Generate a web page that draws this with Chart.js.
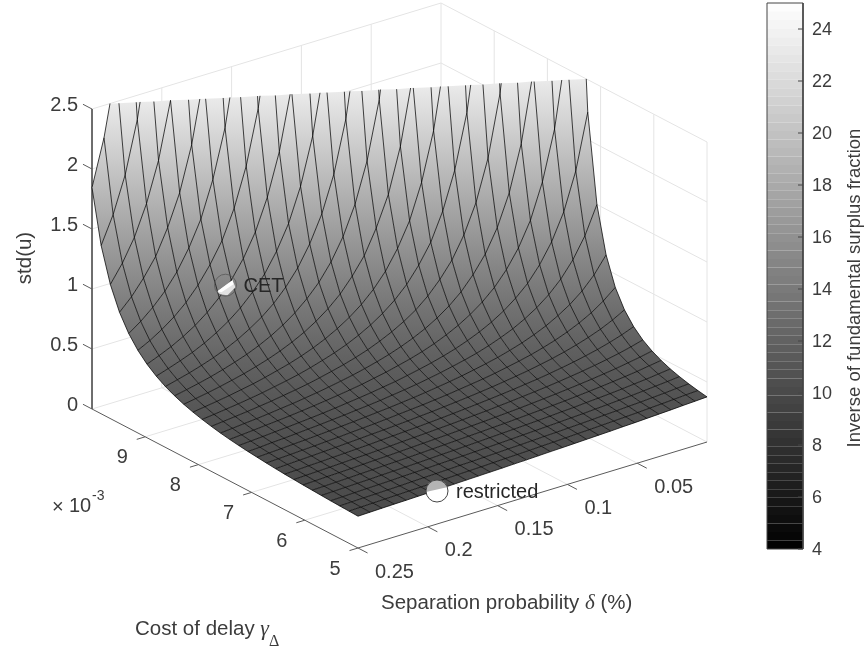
<!DOCTYPE html>
<html>
<head>
<meta charset="utf-8">
<style>html,body{margin:0;padding:0;background:#fff}canvas{display:block}</style>
<script src="https://cdn.jsdelivr.net/npm/chart.js@4/dist/chart.umd.min.js"></script>
</head>
<body>
<canvas id="c" width="866" height="649"></canvas>
<script>
// Surface heights estimated by eye from the reference (edge curves and mesh crossings); approximate.
const deltaGrid = [.25,.2414,.2328,.2241,.2155,.2069,.1983,.1897,.181,.1724,.1638,.1552,.1466,.1379,.1293,.1207,.1121,.1034,.0948,.0862,.0776,.069,.0603,.0517,.0431,.0345,.0259,.0172,.0086,0];
const gammaGrid = [5,5.172,5.345,5.517,5.69,5.862,6.034,6.207,6.379,6.552,6.724,6.897,7.069,7.241,7.414,7.586,7.759,7.931,8.103,8.276,8.448,8.621,8.793,8.966,9.138,9.31,9.483,9.655,9.828,10];
const z00=[.265,.268,.271,.274,.278,.282,.286,.291,.296,.302,.309,.317,.325,.335,.346,.359,.375,.393,.414,.439,.47,.507,.554,.613,.689,.789,.926,1.118,1.402,1.845];
const z01=[.268,.271,.274,.277,.281,.285,.29,.295,.3,.307,.314,.322,.331,.342,.354,.368,.385,.404,.428,.456,.49,.533,.586,.654,.74,.86,1.025,1.265,1.63,2.23];
const z02=[.271,.274,.277,.281,.285,.289,.294,.299,.305,.312,.319,.328,.338,.349,.362,.378,.396,.417,.443,.474,.512,.56,.621,.698,.802,.946,1.15,1.45,1.93,2.77];
const z03=[.274,.277,.28,.284,.288,.292,.297,.303,.309,.316,.325,.334,.344,.357,.371,.387,.407,.431,.459,.494,.537,.591,.66,.752,.876,1.05,1.3,1.7,2.36,3.57];
const z04=[.276,.28,.283,.287,.291,.296,.301,.307,.314,.322,.33,.34,.352,.365,.38,.398,.42,.446,.478,.517,.566,.626,.707,.815,.966,1.18,1.51,2.03,2.96];
const z05=[.279,.283,.286,.29,.295,.3,.306,.312,.319,.327,.336,.347,.359,.373,.39,.41,.433,.462,.497,.541,.597,.667,.763,.892,1.08,1.35,1.77,2.5,3.89];
const z06=[.282,.286,.29,.294,.299,.304,.31,.316,.324,.333,.342,.354,.367,.382,.401,.422,.449,.481,.52,.57,.632,.716,.829,.986,1.22,1.56,2.14,3.19];
const z07=[.286,.289,.293,.297,.302,.308,.314,.321,.329,.339,.349,.361,.376,.392,.412,.436,.465,.501,.546,.601,.675,.774,.909,1.1,1.39,1.86,2.67];
const z08=[.289,.292,.296,.301,.306,.312,.319,.326,.335,.345,.356,.369,.384,.403,.425,.451,.483,.523,.574,.639,.725,.842,1.01,1.25,1.63,2.26,3.46];
const z09=[.292,.296,.3,.305,.31,.317,.324,.332,.341,.351,.363,.378,.395,.415,.439,.468,.505,.55,.607,.683,.785,.925,1.13,1.44,1.95,2.85];
const z10=[.295,.299,.304,.309,.315,.321,.329,.337,.347,.358,.371,.387,.405,.427,.454,.487,.528,.58,.645,.734,.856,1.03,1.29,1.7,2.4,3.76];
const z11=[.298,.302,.307,.313,.319,.326,.334,.343,.353,.365,.38,.396,.416,.441,.47,.507,.554,.612,.69,.796,.944,1.16,1.49,2.05,3.07];
const z12=[.301,.306,.311,.317,.323,.331,.339,.349,.36,.373,.389,.407,.429,.456,.49,.531,.583,.651,.744,.87,1.05,1.33,1.77,2.55];
const z13=[.305,.31,.315,.321,.328,.336,.345,.355,.367,.381,.398,.418,.443,.472,.51,.557,.617,.698,.808,.962,1.19,1.55,2.16,3.31];
const z14=[.308,.313,.319,.325,.333,.341,.351,.362,.375,.39,.409,.431,.458,.492,.534,.587,.658,.753,.885,1.08,1.37,1.85,2.72];
const z15=[.312,.317,.323,.33,.338,.347,.357,.369,.383,.4,.42,.445,.475,.513,.56,.622,.705,.819,.98,1.22,1.61,2.28,3.61];
const z16=[.316,.321,.327,.335,.343,.352,.364,.376,.392,.41,.433,.46,.494,.536,.59,.663,.761,.899,1.1,1.42,1.94,2.93];
const z17=[.319,.325,.332,.34,.348,.359,.371,.385,.402,.422,.447,.477,.516,.563,.626,.711,.828,1,1.26,1.67,2.42,3.96];
const z18=[.323,.329,.336,.345,.354,.365,.378,.393,.412,.434,.461,.496,.539,.594,.668,.769,.913,1.13,1.46,2.04,3.16];
const z19=[.327,.334,.341,.35,.36,.372,.386,.403,.423,.448,.478,.517,.565,.63,.718,.84,1.02,1.29,1.75,2.58];
const z20=[.331,.338,.346,.356,.367,.379,.395,.413,.436,.463,.498,.54,.597,.673,.778,.927,1.15,1.52,2.15,3.43];
const z21=[.335,.343,.351,.361,.373,.387,.404,.424,.448,.479,.518,.568,.634,.724,.851,1.04,1.33,1.83,2.76];
const z22=[.34,.348,.357,.368,.381,.396,.414,.436,.464,.499,.542,.599,.677,.786,.942,1.18,1.57,2.28,3.75];
const z23=[.344,.353,.363,.374,.388,.405,.425,.45,.481,.519,.57,.637,.73,.862,1.06,1.37,1.91,2.97];
const z24=[.349,.358,.369,.381,.396,.414,.437,.464,.499,.543,.601,.681,.793,.955,1.21,1.63,2.42,4.14];
const z25=[.354,.364,.375,.389,.405,.425,.45,.481,.52,.571,.639,.735,.871,1.08,1.41,2.01,3.22];
const z26=[.359,.37,.382,.397,.415,.437,.464,.499,.543,.603,.684,.799,.97,1.24,1.7,2.58];
const z27=[.365,.376,.389,.406,.425,.45,.481,.519,.571,.641,.738,.88,1.1,1.46,2.11,3.51];
const z28=[.37,.383,.397,.415,.437,.465,.498,.543,.603,.687,.806,.984,1.27,1.77,2.76];
const z29=[.376,.389,.405,.425,.449,.48,.519,.571,.642,.742,.889,1.12,1.5,2.23,3.86];
const zColumns=[z00,z01,z02,z03,z04,z05,z06,z07,z08,z09,z10,z11,z12,z13,z14,z15,z16,z17,z18,z19,z20,z21,z22,z23,z24,z25,z26,z27,z28,z29];

const zTicks=[0,.5,1,1.5,2,2.5];
const zTickLabels=['0','0.5','1','1.5','2','2.5'];
const deltaTicks=[.25,.2,.15,.1,.05];
const deltaTickLabels=['0.25','0.2','0.15','0.1','0.05'];
const gammaTicks=[5,6,7,8,9];
const gammaTickLabels=['5','6','7','8','9'];
const colorTicks=[4,6,8,10,12,14,16,18,20,22,24];
const markerNames=['CET','restricted'];
const markerDelta=[.1925,.1934];
const markerGamma=[9,5];
const markerZ=[1.06,.275];

// view of the 3-D box
const DELTA_MAX=.25,GAMMA_MIN=5,GAMMA_MAX=10,Z_MAX=2.5,C_MIN=4,C_MAX=25;
const view={x0:358,y0:548,ax:349,ay:-106,bx:-266,by:-139,zy:-120};
function project(d,g,z){
  const a=1-d/DELTA_MAX,b=(g-GAMMA_MIN)/(GAMMA_MAX-GAMMA_MIN);
  return {x:view.x0+view.ax*a+view.bx*b,y:view.y0+view.ay*a+view.by*b+view.zy*z};
}
const bar={left:767,right:803,top:3,bottom:549};
const barY=v=>bar.bottom-(v-C_MIN)/(C_MAX-C_MIN)*(bar.bottom-bar.top);
const grayOf=v=>{const g=Math.round(255*Math.min(1,Math.max(0,(v-C_MIN)/(C_MAX-C_MIN))));return `rgb(${g},${g},${g})`;};
const colorOfZ=z=>grayOf(8.65+5.85*z);

const datasets=[];
function poly(points,o){
  datasets.push(Object.assign({data:points,showLine:true,pointRadius:0,borderWidth:1,borderColor:'#000',fill:false,clip:false,tension:0},o));
}
const GRID='#e4e4e4',AXIS='#5a5a5a';
// back walls and floor
zTicks.forEach(z=>{
  poly([project(DELTA_MAX,GAMMA_MAX,z),project(0,GAMMA_MAX,z),project(0,GAMMA_MIN,z)],{borderColor:GRID,order:6});
});
deltaTicks.slice(1).forEach(d=>{
  poly([project(d,GAMMA_MIN,0),project(d,GAMMA_MAX,0),project(d,GAMMA_MAX,Z_MAX)],{borderColor:GRID,order:6});
});
gammaTicks.slice(1).forEach(g=>{
  poly([project(DELTA_MAX,g,0),project(0,g,0),project(0,g,Z_MAX)],{borderColor:GRID,order:6});
});
poly([project(0,GAMMA_MAX,0),project(0,GAMMA_MAX,Z_MAX)],{borderColor:GRID,order:6});
poly([project(0,GAMMA_MIN,0),project(0,GAMMA_MIN,Z_MAX)],{borderColor:GRID,order:6});
// axes and ticks
poly([project(DELTA_MAX,GAMMA_MAX,Z_MAX),project(DELTA_MAX,GAMMA_MAX,0),project(DELTA_MAX,GAMMA_MIN,0),project(0,GAMMA_MIN,0)],{borderColor:AXIS,order:5});
const tickLen=.034;
zTicks.forEach(z=>poly([project(DELTA_MAX,GAMMA_MAX,z),project(DELTA_MAX,GAMMA_MAX*(1+tickLen/2),z)],{borderColor:AXIS,order:5}));
deltaTicks.forEach(d=>poly([project(d,GAMMA_MIN,0),project(d,GAMMA_MIN-.18,0)],{borderColor:AXIS,order:5}));
gammaTicks.forEach(g=>poly([project(DELTA_MAX,g,0),project(DELTA_MAX*(1+tickLen/1.4),g,0)],{borderColor:AXIS,order:5}));

// surface facets, cut at the top of the z axis
const LID=8;
const zAt=(i,j)=>{const v=zColumns[i][j];return v===undefined?LID:v;};
const vert=(i,j)=>({d:deltaGrid[i],g:gammaGrid[j],z:zAt(i,j)});
const cross=(p,q)=>{const t=(Z_MAX-p.z)/(q.z-p.z);return {d:p.d+t*(q.d-p.d),g:p.g+t*(q.g-p.g),z:Z_MAX};};
function clipTop(vs){
  const out=[];
  vs.forEach((p,n)=>{
    const q=vs[(n+1)%vs.length];
    if(p.z<=Z_MAX)out.push(p);
    if((p.z<=Z_MAX)!==(q.z<=Z_MAX))out.push(cross(p,q));
  });
  return out;
}
for(let i=0;i<deltaGrid.length-1;i++){
  for(let j=0;j<gammaGrid.length-1;j++){
    const vs=clipTop([vert(i,j),vert(i+1,j),vert(i+1,j+1),vert(i,j+1)]);
    if(vs.length<3)continue;
    const pts=vs.map(v=>project(v.d,v.g,v.z));
    const zs=vs.map(v=>v.z),ys=pts.map(p=>p.y);
    const zLo=Math.min(...zs),zHi=Math.max(...zs),yTop=Math.min(...ys),yBot=Math.max(...ys);
    poly(pts,{borderWidth:0,order:4,fill:'shape',backgroundColor:(ctx)=>{
      const sy=ctx.chart.scales.y;
      const y0=sy?sy.getPixelForValue(yTop):NaN,y1=sy?sy.getPixelForValue(yBot):NaN;
      if(!isFinite(y0)||!isFinite(y1))return colorOfZ((zLo+zHi)/2);
      const gr=ctx.chart.ctx.createLinearGradient(0,y0,0,y1+.01);
      gr.addColorStop(0,colorOfZ(zHi));gr.addColorStop(1,colorOfZ(zLo));
      return gr;
    }});
  }
}
// mesh lines
function walk(vs){
  const out=[];
  for(let n=0;n<vs.length;n++){
    const p=vs[n];
    if(p.z<=Z_MAX){out.push(project(p.d,p.g,p.z));}
    else{if(n>0){const c=cross(vs[n-1],p);out.push(project(c.d,c.g,c.z));}break;}
  }
  return out;
}
const MESH={borderColor:'rgba(0,0,0,.88)',borderWidth:.85,order:3};
deltaGrid.forEach((_,i)=>poly(walk(gammaGrid.map((_,j)=>vert(i,j))),MESH));
gammaGrid.forEach((_,j)=>poly(walk(deltaGrid.map((_,i)=>vert(i,j))),MESH));

// colour bar
for(let n=0;n<64;n++){
  const v0=C_MIN+n*(C_MAX-C_MIN)/64,v1=C_MIN+(n+1)*(C_MAX-C_MIN)/64;
  poly([{x:bar.left,y:barY(v0)},{x:bar.right,y:barY(v0)},{x:bar.right,y:barY(v1)},{x:bar.left,y:barY(v1)}],
    {borderWidth:0,order:4,fill:'shape',backgroundColor:grayOf((v0+v1)/2)});
}
poly([{x:bar.left,y:bar.top},{x:bar.right,y:bar.top},{x:bar.right,y:bar.bottom},{x:bar.left,y:bar.bottom},{x:bar.left,y:bar.top}],{borderColor:'#444',order:2});
colorTicks.forEach(v=>poly([{x:bar.right-5,y:barY(v)},{x:bar.right,y:barY(v)}],{borderColor:'#444',order:2}));

// marker rings
const markerPts=markerNames.map((_,n)=>project(markerDelta[n],markerGamma[n],markerZ[n]));

const TEXT='#3c3c3c';
const textPlugin={id:'labels3d',afterDatasetsDraw(chart){
  const c=chart.ctx,sx=chart.scales.x,sy=chart.scales.y;
  const P=p=>({x:sx.getPixelForValue(p.x),y:sy.getPixelForValue(p.y)});
  const SANS='"Liberation Sans",Arial,sans-serif',SERIF='"Liberation Serif",serif';
  const put=(s,x,y,font,col,al,bl)=>{c.font=font;c.fillStyle=col||TEXT;c.textAlign=al||'left';c.textBaseline=bl||'middle';c.fillText(s,x,y);};
  c.save();
  // markers
  const m0=P(markerPts[0]),m1=P(markerPts[1]),R=11;
  c.save();c.beginPath();c.arc(m0.x,m0.y,R,0,7);c.clip();
  c.fillStyle='#e2e2e2';c.beginPath();c.moveTo(m0.x-8,m0.y+6);c.lineTo(m0.x+7,m0.y-5);c.lineTo(m0.x+10,m0.y+2);c.lineTo(m0.x+2,m0.y+10);c.lineTo(m0.x-6,m0.y+9);c.closePath();c.fill();
  c.fillStyle='#fff';c.beginPath();c.moveTo(m0.x-8,m0.y+6);c.lineTo(m0.x+7,m0.y-5);c.lineTo(m0.x+8,m0.y-1);c.lineTo(m0.x-4,m0.y+7);c.closePath();c.fill();
  c.restore();
  c.strokeStyle='rgba(85,85,85,.75)';c.lineWidth=1;c.beginPath();c.arc(m0.x,m0.y,R,0,7);c.stroke();
  c.fillStyle='#fff';c.beginPath();c.arc(m1.x,m1.y,R,0,7);c.fill();
  c.save();c.beginPath();c.arc(m1.x,m1.y,R,0,7);c.clip();
  c.fillStyle='#b4b4b4';c.beginPath();c.moveTo(m1.x-R,m1.y+1);c.lineTo(m1.x+R,m1.y-4);c.lineTo(m1.x+R,m1.y-R-1);c.lineTo(m1.x-R,m1.y-R-1);c.closePath();c.fill();
  c.restore();
  c.strokeStyle='#444';c.beginPath();c.arc(m1.x,m1.y,R,0,7);c.stroke();
  put(markerNames[0],m0.x+18,m0.y+1,'20px '+SANS,'#262626');
  put(markerNames[1],m1.x+19,m1.y+1,'20px '+SANS,'#262626');
  // z ticks
  zTicks.forEach((z,n)=>{const p=P(project(DELTA_MAX,GAMMA_MAX,z));put(zTickLabels[n],78,p.y-4,'20px '+SANS,TEXT,'right');});
  deltaTicks.forEach((d,n)=>{const p=P(project(d,GAMMA_MIN,0));put(deltaTickLabels[n],p.x+17,p.y+24,'20px '+SANS);});
  gammaTicks.forEach((g,n)=>{const p=P(project(DELTA_MAX,g,0));put(gammaTickLabels[n],p.x-23,p.y+21,'20px '+SANS,TEXT,'center');});
  // exponent
  put('\u00d7',52,507,'20px '+SANS);
  put('10',69,506,'20px '+SANS);
  put('-3',92,496,'14px '+SANS);
  // axis titles
  let x=381,y=609;
  put('Separation probability ',x,y,'20.5px '+SANS,TEXT,'left','alphabetic');x+=c.measureText('Separation probability ').width;
  put('\u03b4',x,y,'italic 21px '+SERIF,TEXT,'left','alphabetic');x+=c.measureText('\u03b4').width;
  put(' (%)',x,y,'20.5px '+SANS,TEXT,'left','alphabetic');
  x=135;y=635;
  put('Cost of delay ',x,y,'20.5px '+SANS,TEXT,'left','alphabetic');x+=c.measureText('Cost of delay ').width;
  put('\u03b3',x,y,'italic 22px '+SERIF,TEXT,'left','alphabetic');x+=c.measureText('\u03b3').width;
  put('\u0394',x,y+11,'16px '+SERIF,TEXT,'left','alphabetic');
  c.save();c.translate(25,258);c.rotate(-Math.PI/2);put('std(u)',0,0,'20.5px '+SANS,TEXT,'center');c.restore();
  // colour bar
  colorTicks.forEach(v=>put(String(v),812,barY(v)+1,'18px '+SANS));
  c.save();c.translate(855,288);c.rotate(-Math.PI/2);put('Inverse of fundamental surplus fraction',0,0,'18.5px '+SANS,TEXT,'center');c.restore();
  c.restore();
}};

new Chart(document.getElementById('c'),{
  type:'scatter',
  data:{datasets},
  plugins:[textPlugin],
  options:{
    responsive:false,animation:false,devicePixelRatio:1,
    layout:{padding:0},
    events:[],
    plugins:{legend:{display:false},title:{display:false},tooltip:{enabled:false}},
    scales:{
      x:{type:'linear',min:0,max:866,display:false},
      y:{type:'linear',min:0,max:649,reverse:true,display:false}
    }
  }
});
</script>
</body>
</html>
